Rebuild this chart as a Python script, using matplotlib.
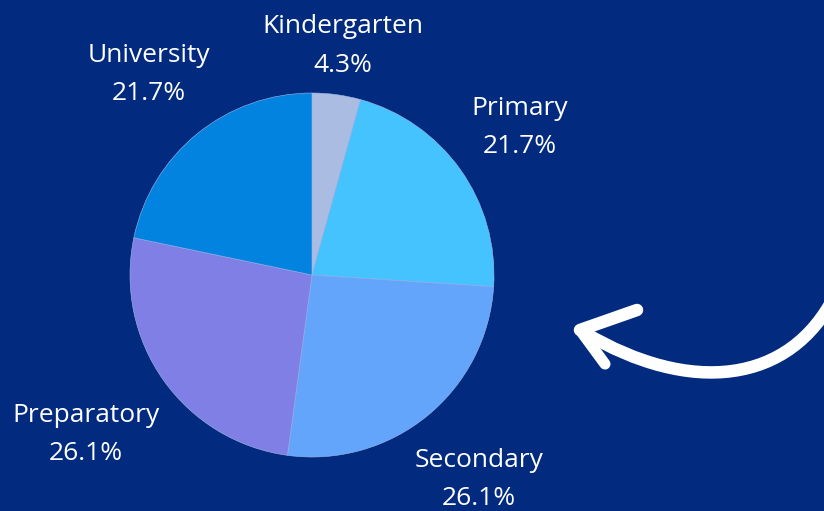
import numpy as np
import matplotlib.pyplot as plt
from matplotlib.path import Path
from matplotlib.patches import PathPatch

# data
levels = ["Kindergarten", "Primary", "Secondary", "Preparatory", "University"]
shares = [4.3, 21.7, 26.1, 26.1, 21.7]
colors = ["#aabce2", "#45c3fe", "#63a5fa", "#7f7fe6", "#0383e0"]
# how far out each label sits (in radii)
label_dist = [1.27, 1.40, 1.45, 1.52, 1.42]

bg = "#022b7f"
W, H = 824, 511
fig = plt.figure(figsize=(W / 100, H / 100), dpi=100, facecolor=bg)

cx, cy, r = 312, 275, 182
ax = fig.add_axes([(cx - r) / W, (H - cy - r) / H, 2 * r / W, 2 * r / H])
ax.set_facecolor("none")
wedges, _ = ax.pie(shares, colors=colors, startangle=90, counterclock=False,
                   radius=1, wedgeprops=dict(edgecolor="#a0b8e8", linewidth=0.4))
ax.set_xlim(-1, 1)
ax.set_ylim(-1, 1)
ax.set_aspect("equal")
ax.axis("off")

for w, name, val, d in zip(wedges, levels, shares, label_dist):
    ang = np.deg2rad((w.theta1 + w.theta2) / 2)
    ax.text(d * np.cos(ang), d * np.sin(ang), f"{name}\n{val}%", color="white",
            fontsize=19, family="Open Sans", ha="center", va="center",
            linespacing=1.7, clip_on=False)

# curved arrow on the right
ov = fig.add_axes([0, 0, 1, 1])
ov.set_xlim(0, W)
ov.set_ylim(H, 0)
ov.axis("off")
ov.set_facecolor("none")
curve = Path([(835, 295), (790, 385), (690, 395), (585, 333)],
             [Path.MOVETO, Path.CURVE4, Path.CURVE4, Path.CURVE4])
ov.add_patch(PathPatch(curve, facecolor="none", edgecolor="white", lw=9,
                       capstyle="round"))
ov.plot([580, 637], [330, 310], color="white", lw=9, solid_capstyle="round")
ov.plot([580, 605], [330, 364], color="white", lw=8, solid_capstyle="round")

fig.savefig("out.png", dpi=100, facecolor=bg)
